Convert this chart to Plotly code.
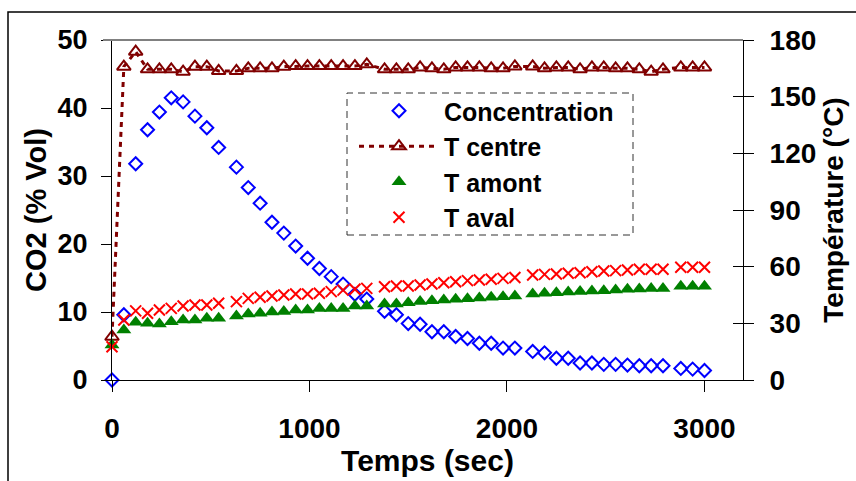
import plotly.graph_objects as go

# ---------------- data ----------------
temps_sec = [0, 60, 120, 180, 240, 300, 360, 420, 480, 540,
             630, 690, 750, 810, 870, 930, 990, 1050, 1110, 1170, 1230, 1290,
             1380, 1440, 1500, 1560, 1620, 1680, 1740, 1800, 1860, 1920, 1980, 2040,
             2130, 2190, 2250, 2310, 2370, 2430, 2490, 2550, 2610, 2670, 2730, 2790,
             2880, 2940, 3000]

concentration = [0.0, 9.6, 31.8, 36.8, 39.4, 41.5, 40.9, 38.8, 37.1, 34.2,
                 31.3, 28.3, 26.0, 23.2, 21.6, 19.7, 17.9, 16.4, 15.2, 14.1, 12.6, 11.9,
                 10.1, 9.6, 8.3, 8.2, 7.1, 7.1, 6.4, 6.1, 5.4, 5.4, 4.7, 4.7,
                 4.2, 4.0, 3.2, 3.2, 2.5, 2.5, 2.3, 2.3, 2.2, 2.1, 2.1, 2.1,
                 1.7, 1.6, 1.4]

t_centre = [22.9, 165.9, 173.8, 164.5, 164.5, 164.5, 163.2, 165.9, 165.9, 163.6,
            163.6, 165.0, 165.0, 165.0, 165.9, 166.2, 166.2, 166.2, 166.2, 166.2, 166.2, 167.1,
            164.5, 164.5, 164.5, 165.5, 165.0, 164.5, 165.5, 165.5, 165.5, 165.0, 165.0, 166.0,
            166.0, 165.0, 165.5, 165.5, 164.5, 165.5, 165.5, 165.0, 165.0, 164.5, 163.2, 164.5,
            165.5, 165.5, 165.5]

t_amont = [18.5, 26.5, 30.6, 30.0, 29.6, 30.9, 31.8, 31.8, 32.7, 32.7,
           33.9, 34.9, 35.3, 36.0, 36.2, 37.1, 37.1, 37.9, 37.9, 37.9, 39.2, 39.2,
           40.2, 40.2, 40.9, 41.5, 42.0, 42.3, 42.7, 43.0, 43.4, 43.8, 44.1, 44.5,
           45.5, 45.9, 46.2, 46.6, 46.8, 47.1, 47.3, 47.6, 48.0, 48.2, 48.5, 48.5,
           49.6, 49.6, 49.6]

t_aval = [17.6, 31.8, 36.6, 35.3, 37.1, 37.9, 39.2, 39.7, 39.7, 40.6,
          41.5, 43.2, 43.8, 44.5, 45.0, 45.5, 45.5, 45.9, 46.8, 47.6, 48.0, 48.5,
          49.4, 49.8, 49.8, 50.3, 50.8, 51.5, 52.0, 52.6, 52.9, 53.3, 53.8, 54.3,
          55.6, 55.9, 56.1, 56.5, 56.8, 57.3, 57.7, 57.9, 58.2, 58.6, 58.6, 58.6,
          59.7, 59.7, 59.7]

x_ticks = [0, 1000, 2000, 3000]
y_ticks = [0, 10, 20, 30, 40, 50]
y2_ticks = [0, 30, 60, 90, 120, 150, 180]

FONT = "Liberation Sans, Arial, sans-serif"

fig = go.Figure()

fig.add_trace(go.Scatter(
    x=temps_sec, y=concentration, name="Concentration", mode="markers",
    marker=dict(symbol="diamond-open", size=10, color="#0000FF", line=dict(width=2, color="#0000FF")),
    yaxis="y", cliponaxis=False))

fig.add_trace(go.Scatter(
    x=temps_sec, y=t_centre, name="T centre", mode="lines+markers",
    line=dict(color="#800000", width=3, dash="5px,5px"),
    marker=dict(symbol="triangle-up-open", size=12, color="#800000", line=dict(width=2, color="#800000")),
    yaxis="y2", cliponaxis=False))

fig.add_trace(go.Scatter(
    x=temps_sec, y=t_amont, name="T amont", mode="markers",
    marker=dict(symbol="triangle-up", size=13, color="#008000"),
    yaxis="y2", cliponaxis=False))

fig.add_trace(go.Scatter(
    x=temps_sec, y=t_aval, name="T aval", mode="markers",
    marker=dict(symbol="x-thin-open", size=11, color="#FF0000", line=dict(width=2, color="#FF0000")),
    yaxis="y2", cliponaxis=False))

# empty trace so the inner tick marks of the right axis are drawn
fig.add_trace(go.Scatter(x=[], y=[], yaxis="y3", showlegend=False, hoverinfo="skip"))

fig.update_layout(
    width=856, height=481, autosize=False,
    margin=dict(l=112, r=113, t=40, b=101),
    paper_bgcolor="white", plot_bgcolor="white",
    font=dict(family=FONT, color="black", weight="bold"),
    showlegend=True,
    legend=dict(
        x=(354 - 112) / 631, xanchor="left",
        y=(380 - 88) / 340, yanchor="top",
        bgcolor="rgba(0,0,0,0)", borderwidth=0,
        font=dict(family=FONT, size=25, color="black", weight="bold"),
        itemwidth=80, tracegroupgap=0,
    ),
    xaxis=dict(
        range=[0, 3195], tickvals=x_ticks, ticks="outside", ticklen=11, tickcolor="black",
        showline=True, linecolor="black", linewidth=1, showgrid=False, zeroline=False,
        tickfont=dict(size=28, family=FONT, weight="bold"), ticklabelstandoff=12,
        title=dict(text="Temps (sec)", font=dict(size=30, family=FONT, weight="bold"), standoff=1),
        automargin=False,
    ),
    yaxis=dict(
        range=[0, 50], tickvals=y_ticks, ticks="outside", ticklen=10, tickcolor="black",
        showline=True, linecolor="black", linewidth=1, showgrid=False, zeroline=False,
        tickfont=dict(size=27, family=FONT, weight="bold"), ticklabelstandoff=8,
        title=dict(text="CO2 (% Vol)", font=dict(size=29, family=FONT, weight="bold"), standoff=2),
        automargin=False,
    ),
    yaxis2=dict(
        overlaying="y", side="right", anchor="x",
        range=[0, 180], tickvals=y2_ticks, ticks="outside", ticklen=10, tickcolor="black",
        showline=True, linecolor="black", linewidth=1, showgrid=False, zeroline=False,
        tickfont=dict(size=28, family=FONT, weight="bold"), ticklabelstandoff=10,
        title=dict(text="Température (°C)", font=dict(size=28, family=FONT, weight="bold"), standoff=8),
        automargin=False,
    ),
    yaxis3=dict(
        overlaying="y", side="right", anchor="x",
        range=[0, 180], tickvals=y2_ticks, ticks="inside", ticklen=10, tickcolor="black",
        showline=False, showgrid=False, zeroline=False, showticklabels=False,
        automargin=False,
    ),
    shapes=[
        # outer chart frame
        dict(type="rect", xref="paper", yref="paper",
             x0=(8 - 112) / 631, x1=1.25, y0=-0.4, y1=(380 - 12) / 340,
             line=dict(color="black", width=1.5), layer="below"),
        # grey top border of the plot area
        dict(type="line", xref="paper", yref="paper",
             x0=(103 - 112) / 631, x1=1, y0=1, y1=1,
             line=dict(color="#808080", width=2)),
        # dashed legend box
        dict(type="rect", xref="paper", yref="paper",
             x0=(347 - 112) / 631, x1=(633 - 112) / 631,
             y0=(380 - 235) / 340, y1=(380 - 93) / 340,
             line=dict(color="#333333", width=1, dash="7px,5px")),
    ],
)

fig.write_html("out.html",
               config={"displayModeBar": False},
               post_script="document.body.style.margin='0px';document.body.style.overflow='hidden';")
